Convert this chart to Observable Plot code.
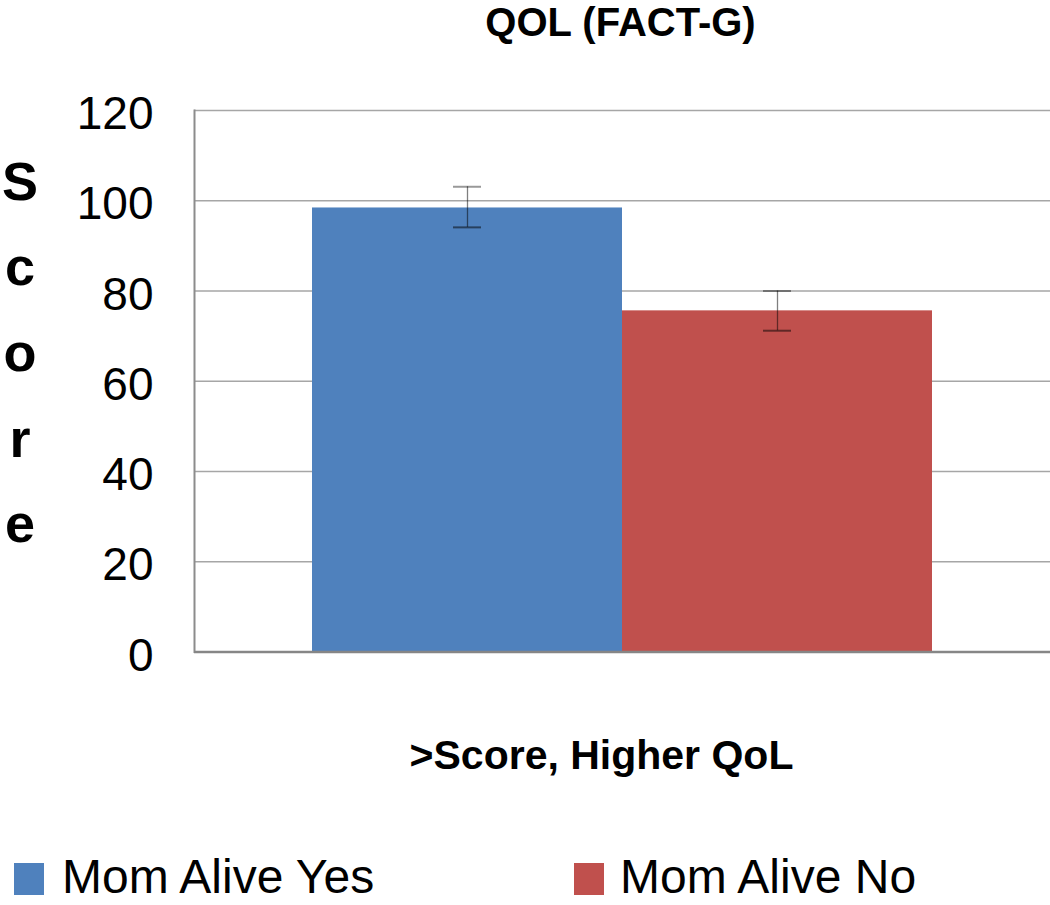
<!DOCTYPE html>
<html>
<head>
<meta charset="utf-8">
<script src="https://cdn.jsdelivr.net/npm/d3@7"></script>
<script src="https://cdn.jsdelivr.net/npm/@observablehq/plot@0.6"></script>
<style>
  html, body { margin: 0; padding: 0; background: #fff; }
  #wrap { position: relative; width: 1050px; height: 905px; font-family: "Liberation Sans", Arial, sans-serif; color: #000; }
  .abs { position: absolute; white-space: nowrap; line-height: 0.8; }
  #chart { position: absolute; left: 0; top: 0; }
</style>
</head>
<body>
<div id="wrap">
  <div id="chart"></div>
</div>
<script>
// ---- data ----
const title = "QOL (FACT-G)";
const xTitle = ">Score, Higher QoL";
const yTitleLetters = ["S", "c", "o", "r", "e"];
const series = ["Mom Alive Yes", "Mom Alive No"];
const means = [98.4, 75.6];
const upper = [103.1, 80.0];
const lower = [94.1, 71.2];
const colors = ["#4F81BD", "#C0504D"];
const yTicks = [0, 20, 40, 60, 80, 100, 120];

const rows = series.map((s, i) => ({series: s, value: means[i], hi: upper[i], lo: lower[i]}));

const svgH = 700;
const chart = Plot.plot({
  width: 1050,
  height: svgH,
  marginTop: 110,
  marginBottom: svgH - 651.5,
  marginLeft: 194,
  marginRight: 0,
  style: {fontFamily: "Liberation Sans, Arial, sans-serif", color: "#000", background: "transparent"},
  x: {domain: series, padding: 0, insetLeft: 118, insetRight: 118, axis: null},
  y: {domain: [0, 120], axis: null},
  color: {domain: series, range: colors},
  marks: [
    Plot.gridY(yTicks, {stroke: "#a6a6a6", strokeOpacity: 1, strokeWidth: 1.5}),
    Plot.axisY(yTicks, {tickSize: 0, tickPadding: 41, fontSize: 46, dy: 4, label: null, fill: "#000"}),
    Plot.barY(rows, {x: "series", y: "value", fill: "series"}),
    Plot.ruleX(rows, {x: "series", y1: "lo", y2: "hi", stroke: "#000", strokeOpacity: 0.5, strokeWidth: 1.3}),
    Plot.tickY(rows, {x: "series", y: "hi", stroke: "#000", strokeOpacity: 0.4, strokeWidth: 2, insetLeft: 141, insetRight: 141}),
    Plot.tickY(rows, {x: "series", y: "lo", stroke: "#000", strokeOpacity: 0.5, strokeWidth: 2, insetLeft: 141, insetRight: 141}),
    Plot.frame({anchor: "left", stroke: "#8c8c8c", strokeWidth: 2}),
    Plot.ruleY([0], {stroke: "#868686", strokeWidth: 2.5})
  ]
});
document.getElementById("chart").appendChild(chart);

const wrap = document.getElementById("wrap");
// baseline offset from top of a line box with line-height 0.8 (Liberation Sans metrics)
const BASE = 0.8 / 2 - 1.117 / 2 + 0.905;
function addText(txt, {x, baseline, size, bold = false, anchor = "start"}) {
  const d = document.createElement("div");
  d.className = "abs";
  d.textContent = txt;
  d.style.fontSize = size + "px";
  d.style.fontWeight = bold ? "bold" : "normal";
  d.style.top = (baseline - BASE * size) + "px";
  d.style.left = x + "px";
  if (anchor === "middle") d.style.transform = "translateX(-50%)";
  wrap.appendChild(d);
}
// title
addText(title, {x: 620.5, baseline: 36, size: 40, bold: true, anchor: "middle"});
// x title
addText(xTitle, {x: 601.5, baseline: 770, size: 41, bold: true, anchor: "middle"});
// y title, stacked letters
yTitleLetters.forEach((ch, i) => {
  addText(ch, {x: 20, baseline: 200 + i * 85.7, size: 54, bold: true, anchor: "middle"});
});
// legend
const legendX = [[14, 62], [574, 620]];
series.forEach((s, i) => {
  const sw = document.createElement("div");
  sw.style.position = "absolute";
  sw.style.left = legendX[i][0] + "px";
  sw.style.top = "863px";
  sw.style.width = "30px";
  sw.style.height = "32px";
  sw.style.background = colors[i];
  wrap.appendChild(sw);
  addText(s, {x: legendX[i][1], baseline: 894, size: 48});
});
</script>
</body>
</html>
